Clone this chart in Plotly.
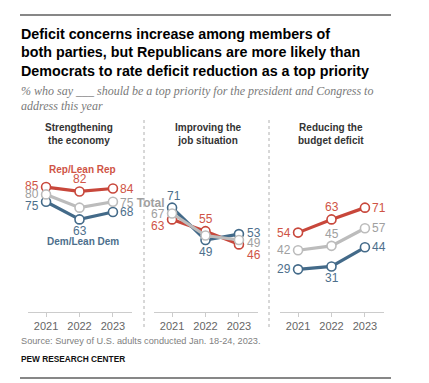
import plotly.graph_objects as go

# ---------------- data ----------------
years = ["2021", "2022", "2023"]
panel_titles = ["Strengthening<br>the economy", "Improving the<br>job situation", "Reducing the<br>budget deficit"]

rep_economy = [85, 82, 84]
total_economy = [80, 71, 75]
dem_economy = [75, 63, 68]

rep_jobs = [63, 55, 46]
total_jobs = [67, 52, 49]
dem_jobs = [71, 49, 53]

rep_deficit = [54, 63, 71]
total_deficit = [42, 45, 57]
dem_deficit = [29, 31, 44]

series_names = ["Rep/Lean Rep", "Dem/Lean Dem", "Total"]

title_lines = [
    "Deficit concerns increase among members of",
    "both parties, but Republicans are more likely than",
    "Democrats to rate deficit reduction as a top priority",
]
subtitle_lines = [
    "% who say ___ should be a top priority for the president and Congress to",
    "address this year",
]
source_text = "Source: Survey of U.S. adults conducted Jan. 18-24, 2023."
brand_text = "PEW RESEARCH CENTER"

# ---------------- styles ----------------
W, H = 429, 383
SANS = "Liberation Sans, Arial, sans-serif"
SERIF = "Liberation Serif, Georgia, serif"
REP_C, REP_T = "#c8473b", "#cf5446"
DEM_C, DEM_T = "#436a89", "#4d6f8c"
TOT_C, TOT_T = "#bcbcbc", "#a0a0a0"


def px_x(px):
    return px / W


def px_y(py):
    return 1 - py / H


x_domains = [(28, 132), (154, 258), (280, 384)]
y_domain = (px_y(312), px_y(150))
y_range = [0, 162 / 1.47]
x_range = [-0.54, 2.57]

panels = [
    (rep_economy, dem_economy, total_economy),
    (rep_jobs, dem_jobs, total_jobs),
    (rep_deficit, dem_deficit, total_deficit),
]

# label placements per panel -> per series (rep, dem, total) -> per point (pos, dx, dy) or None
placements = [
    [
        [("L", 0, 1), ("A", 0, 0), ("R", 0, 0)],
        [("L", 0, -4), ("B", 0, 0), ("R", 0, 0)],
        [("L", 0, 0), None, ("R", 0, -1)],
    ],
    [
        [("L", 0, -7), ("A", 0, 0), ("R", 1, -11)],
        [("A", 2, 0), ("B", 0, 0), ("R", 1, 1)],
        [("L", 0, 0), None, ("R", 1, -3)],
    ],
    [
        [("L", 0, 0), ("A", 0, 0), ("R", 0, 0)],
        [("L", 0, 0), ("B", 0, 0), ("R", 0, 0)],
        [("L", 0, 0), ("A", 0, 0), ("R", 0, 0)],
    ],
]

fig = go.Figure()
annotations = []

colors = [(REP_C, REP_T), (DEM_C, DEM_T), (TOT_C, TOT_T)]
draw_order = [0, 1, 2]

for p, (vals, place) in enumerate(zip(panels, placements)):
    sfx = "" if p == 0 else str(p + 1)
    for s in draw_order:
        line_c, text_c = colors[s]
        fig.add_trace(go.Scatter(
            x=years, y=vals[s], mode="lines+markers",
            xaxis="x" + sfx, yaxis="y" + sfx,
            line=dict(color=line_c, width=3.2),
            marker=dict(symbol="circle", size=9, color="white",
                        line=dict(color=line_c, width=1.6)),
            hoverinfo="skip", showlegend=False,
        ))
    for s in range(3):
        text_c = colors[s][1]
        for i, v in enumerate(vals[s]):
            pl = place[s][i]
            if pl is None:
                continue
            pos, dx, dy = pl
            txt = str(v)
            if p == 0 and s == 2 and i == 2:
                txt = f"{v} <b>Total</b>"
            a = dict(x=i, y=v, xref="x" + sfx, yref="y" + sfx, text=txt,
                     showarrow=False, font=dict(family=SANS, size=12, color=text_c))
            if pos == "L":
                a.update(xanchor="right", yanchor="middle", xshift=-5 + dx, yshift=dy)
            elif pos == "R":
                a.update(xanchor="left", yanchor="middle", xshift=5 + dx, yshift=dy)
            elif pos == "A":
                a.update(xanchor="center", yanchor="bottom", xshift=dx, yshift=3 + dy)
            else:
                a.update(xanchor="center", yanchor="top", xshift=dx, yshift=-3 + dy)
            annotations.append(a)

# series labels in first panel
annotations.append(dict(x=1, y=rep_economy[1], xref="x", yref="y", text="<b>" + series_names[0] + "</b>",
                        showarrow=False, xanchor="center", yanchor="middle", xshift=3, yshift=22,
                        font=dict(family=SANS, size=10, color=REP_T)))
annotations.append(dict(x=1, y=dem_economy[1], xref="x", yref="y", text="<b>" + series_names[1] + "</b>",
                        showarrow=False, xanchor="center", yanchor="middle", xshift=3, yshift=-22,
                        font=dict(family=SANS, size=10, color=DEM_T)))

# panel titles
panel_centers = [79, 208, 331]
for t, cx in zip(panel_titles, panel_centers):
    annotations.append(dict(x=px_x(cx), y=px_y(134), xref="paper", yref="paper", text="<b>" + t + "</b>",
                            showarrow=False, xanchor="center", yanchor="middle",
                            font=dict(family=SANS, size=10, color="#333333")))

# title lines
for line, py in zip(title_lines, [34, 52.5, 71]):
    annotations.append(dict(x=px_x(19), y=px_y(py), xref="paper", yref="paper", text="<b>" + line + "</b>",
                            showarrow=False, xanchor="left", yanchor="middle",
                            font=dict(family=SANS, size=14.3, color="#000000")))
for line, py in zip(subtitle_lines, [91, 106]):
    annotations.append(dict(x=px_x(19), y=px_y(py), xref="paper", yref="paper", text="<i>" + line + "</i>",
                            showarrow=False, xanchor="left", yanchor="middle",
                            font=dict(family=SERIF, size=12, color="#7a7a7a")))

annotations.append(dict(x=px_x(19), y=px_y(341), xref="paper", yref="paper", text=source_text,
                        showarrow=False, xanchor="left", yanchor="middle",
                        font=dict(family=SANS, size=9.2, color="#808080")))
annotations.append(dict(x=px_x(19), y=px_y(359), xref="paper", yref="paper", text="<b>" + brand_text + "</b>",
                        showarrow=False, xanchor="left", yanchor="middle",
                        font=dict(family=SANS, size=8.3, color="#111111")))

shapes = [
    dict(type="line", xref="paper", yref="paper", x0=px_x(20), x1=px_x(391), y0=px_y(15), y1=px_y(15),
         line=dict(color="#111111", width=1.2)),
    dict(type="line", xref="paper", yref="paper", x0=px_x(20), x1=px_x(391), y0=px_y(378), y1=px_y(378),
         line=dict(color="#111111", width=1.2)),
]
for sx in [144, 269]:
    shapes.append(dict(type="line", xref="paper", yref="paper", x0=px_x(sx), x1=px_x(sx),
                       y0=px_y(120), y1=px_y(327), line=dict(color="#b0b0b0", width=1, dash="dot")))

layout = dict(
    width=W, height=H, margin=dict(l=0, r=0, t=0, b=0),
    paper_bgcolor="white", plot_bgcolor="white",
    annotations=annotations, shapes=shapes, showlegend=False,
)
for p, (d0, d1) in enumerate(x_domains):
    sfx = "" if p == 0 else str(p + 1)
    layout["xaxis" + sfx] = dict(
        domain=[px_x(d0), px_x(d1)], type="category", range=x_range, anchor="y" + sfx,
        showgrid=False, zeroline=False, showline=True, linecolor="#cccccc", linewidth=1,
        ticks="outside", ticklen=4, tickcolor="#cccccc", tickwidth=1,
        tickfont=dict(family=SANS, size=11, color="#666666"), fixedrange=True,
    )
    layout["yaxis" + sfx] = dict(
        domain=list(y_domain), range=y_range, anchor="x" + sfx, visible=False, fixedrange=True,
    )

fig.update_layout(**layout)
fig.write_html("out.html", config={"displayModeBar": False},
               post_script="document.body.style.margin='0';document.body.style.overflow='hidden';")
